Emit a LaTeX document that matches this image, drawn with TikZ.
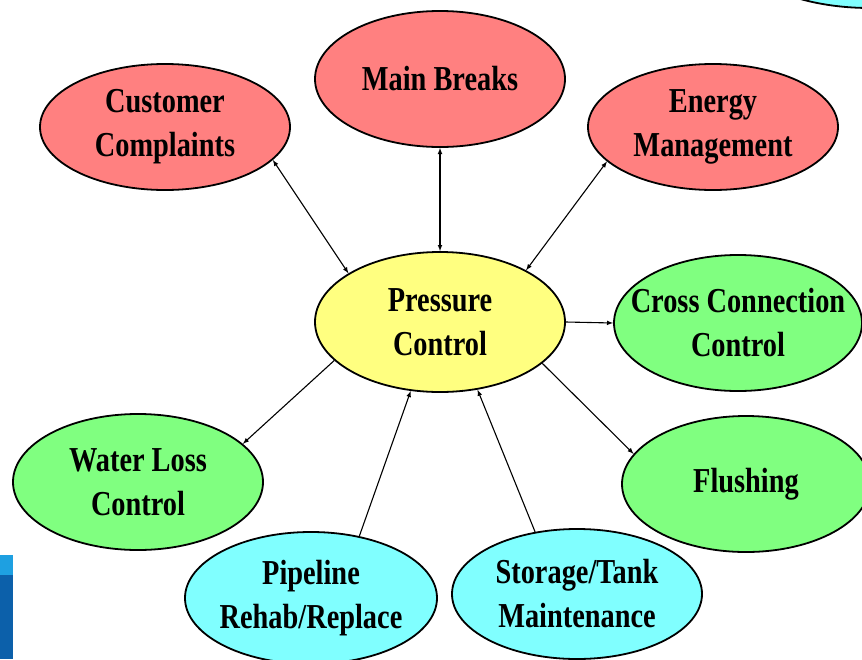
\documentclass[tikz,border=0pt]{standalone}
\usepackage{fontspec}
\usepackage{tikz}
\usepackage{xcolor}
\usetikzlibrary{shapes,arrows,positioning,calc}
\newfontfamily\diagfont{Liberation Serif}[FakeStretch=0.81]
\definecolor{issuered}{RGB}{255,128,128}
\definecolor{corefill}{RGB}{255,255,128}
\definecolor{resultgreen}{RGB}{128,255,128}
\definecolor{causecyan}{RGB}{128,255,255}
\definecolor{edgeblue}{RGB}{12,96,170}
\definecolor{edgelight}{RGB}{30,160,225}

\begin{document}
\begin{tikzpicture}[x=1pt, y=-1pt,
    bubble/.style={ellipse, draw, line width=1.8pt, inner xsep=-30pt, inner ysep=-18pt,
        align=center, font=\diagfont\bfseries\fontsize{35}{44}\selectfont},
    link/.style={line width=1.1pt}]
    \clip (0,0) rectangle (862,659);

    % stray bits of the slide behind the diagram
    \fill[edgelight] (0,555) rectangle (13,575);
    \fill[edgeblue] (0,575) rectangle (13,659);
    \draw[line width=1.8pt, fill=causecyan] (870,-60) ellipse [x radius=140, y radius=68];

    \node[bubble, fill=issuered, minimum width=250, minimum height=126] (cc) at (165,127) {Customer\\Complaints};
    \node[bubble, fill=issuered, minimum width=250, minimum height=136] (mb) at (440,79) {Main Breaks};
    \node[bubble, fill=issuered, minimum width=250, minimum height=126] (em) at (713,127) {Energy\\Management};

    \node[bubble, fill=corefill, minimum width=250, minimum height=140] (pc) at (440,322) {Pressure\\Control};

    \node[bubble, fill=resultgreen, minimum width=248, minimum height=136] (ccc) at (738,323) {Cross Connection\\Control};
    \node[bubble, fill=resultgreen, minimum width=248, minimum height=136] (fl) at (746,484) {Flushing};
    \node[bubble, fill=resultgreen, minimum width=250, minimum height=136] (wl) at (138,482) {Water Loss\\Control};

    \node[bubble, fill=causecyan, minimum width=252, minimum height=132] (pl) at (311,598) {Pipeline\\Rehab/Replace};
    \node[bubble, fill=causecyan, minimum width=250, minimum height=130] (st) at (577,594) {Storage/Tank\\Maintenance};

    \draw[link, latex-latex] (cc.-17) -- (pc.152);
    \draw[link, latex-latex] (mb.south) -- (pc.north);
    \draw[link, latex-latex] (em.198) -- (pc.31);

    \draw[link, -latex] (pc.east) -- (ccc.west);
    \draw[link, -latex] (pc.-22) -- (fl.165);
    \draw[link, -latex] (pc.200) -- (wl.20);

    \draw[link, -latex] (pl.52) -- (pc.-113);
    \draw[link, -latex] (st.124) -- (pc.-61);
\end{tikzpicture}
\end{document}
